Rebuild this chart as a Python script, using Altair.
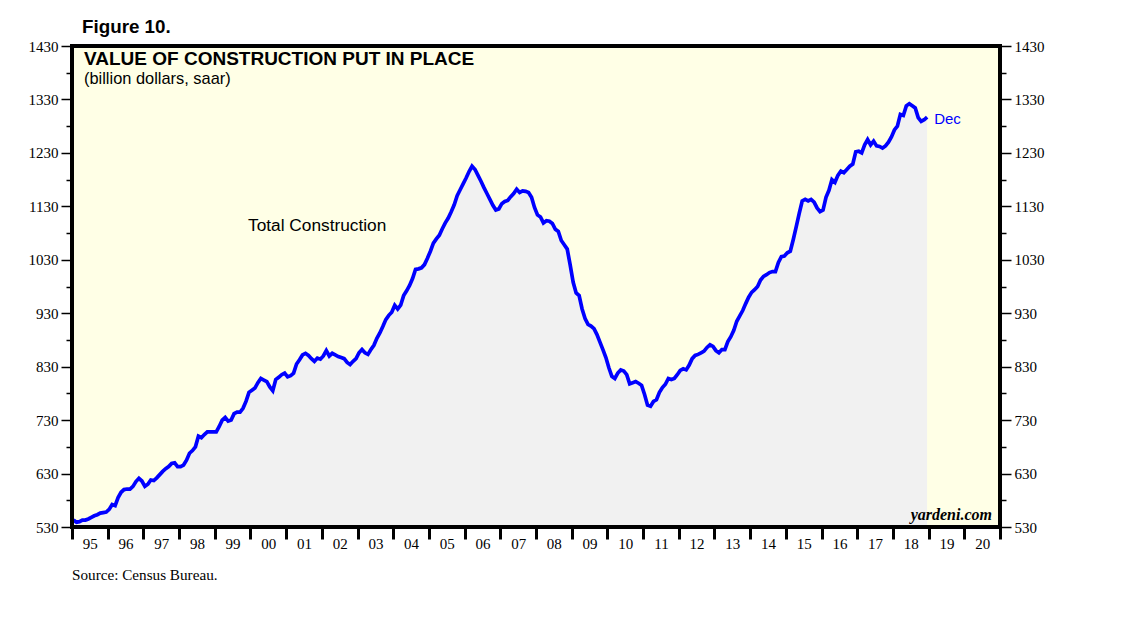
import altair as alt
import pandas as pd

# Monthly value of construction put in place, billion dollars (saar), Jan 1995 - Dec 2018
values_1995_2000 = [
    543, 539, 540, 543, 543, 545, 548, 551, 553, 556, 557, 558,
    563, 572, 570, 585, 595, 600, 601, 601, 606, 615, 621, 616,
    606, 610, 618, 617, 622, 628, 634, 639, 643, 649, 650, 643,
    643, 646, 655, 668, 673, 680, 700, 697, 703, 708, 708, 708,
    708, 718, 730, 735, 728, 730, 742, 745, 745, 752, 765, 782,
    786, 790, 800, 808, 805, 802, 792, 785, 806, 810, 815, 818,
]
values_2001_2006 = [
    811, 813, 818, 835, 843, 852, 855, 851, 845, 840, 846, 844,
    850, 860, 850, 855, 852, 849, 847, 845, 838, 834, 840, 845,
    856, 862, 856, 853, 862, 870, 883, 893, 905, 918, 926, 932,
    945, 938, 945, 963, 972, 982, 995, 1012, 1013, 1015, 1021, 1033,
    1046, 1061, 1069, 1076, 1088, 1099, 1108, 1120, 1133, 1150, 1161, 1172,
    1183, 1195, 1205, 1199, 1188, 1177, 1165, 1154, 1143, 1132, 1123, 1125,
]
values_2007_2012 = [
    1135, 1139, 1141, 1148, 1154, 1162, 1156, 1159, 1158, 1156, 1147, 1128,
    1114, 1110, 1099, 1103, 1102, 1098, 1087, 1083, 1066, 1058, 1050, 1020,
    988, 968, 963, 938, 920, 909, 906, 901, 890, 876, 862, 847,
    828, 812, 808, 818, 824, 822, 815, 798, 800, 802, 799, 795,
    778, 758, 756, 765, 768, 782, 791, 797, 808, 806, 808, 815,
    823, 826, 824, 833, 845, 851, 853, 856, 859, 866, 871, 868,
]
values_2013_2018 = [
    860, 856, 862, 862, 877, 886, 898, 915, 925, 935, 948, 960,
    969, 974, 980, 992, 999, 1002, 1006, 1008, 1008, 1025, 1036, 1037,
    1043, 1046, 1068, 1092, 1117, 1140, 1143, 1140, 1143, 1138, 1127, 1120,
    1123, 1147, 1160, 1180, 1175, 1188, 1196, 1193, 1199, 1205, 1209, 1232,
    1233, 1230, 1245, 1255, 1245, 1252, 1243, 1242, 1239, 1243, 1250, 1260,
    1273, 1280, 1302, 1300, 1318, 1322, 1318, 1314, 1296, 1289, 1292, 1297,
]

first_year = 1995
year_ticks = list(range(1995, 2022))          # year boundaries on the x axis
major_ticks = list(range(530, 1431, 100))     # labelled y ticks
minor_ticks = list(range(580, 1431, 100))     # unlabelled y ticks

all_values = values_1995_2000 + values_2001_2006 + values_2007_2012 + values_2013_2018
rows = []
for k, v in enumerate(all_values):
    year = first_year + k // 12
    month = k % 12 + 1
    rows.append({"date": year + (month - 0.5) / 12, "value": v})
df = pd.DataFrame(rows)

W, H = 928, 481
serif = "Liberation Serif"
sans = "Liberation Sans"

x_scale = alt.Scale(domain=[year_ticks[0], year_ticks[-1]], nice=False, zero=False)
y_scale = alt.Scale(domain=[major_ticks[0], major_ticks[-1]], nice=False, zero=False)

x_axis = alt.Axis(
    orient="bottom",
    values=year_ticks,
    labelExpr="datum.value >= 2021 ? '' : slice(toString(datum.value), 2)",
    tickSize=12, tickWidth=3, tickColor="black", domain=False, grid=False,
    labelOffset=W / 26 / 2, labelPadding=-3, labelFont=serif, labelFontSize=15,
    labelColor="black", labelAngle=0, labelBaseline="top", labelFlush=False,
    labelOverlap=False, title=None,
)


def y_axis(orient, values, size, labels):
    kw = dict(
        orient=orient, values=values, tickSize=size, tickWidth=1.5, tickColor="black",
        domain=False, grid=False, title=None, labels=labels,
    )
    if labels:
        kw.update(format="d", labelFont=serif, labelFontSize=15, labelColor="black",
                  labelPadding=3, labelFlush=False, labelOverlap=False)
    return alt.Axis(**kw)


area = alt.Chart(df).mark_area(color="#F1F1F1", clip=True).encode(
    x=alt.X("date:Q", scale=x_scale, axis=x_axis),
    y=alt.Y("value:Q", scale=y_scale, axis=y_axis("left", major_ticks, 11, True)),
    y2=alt.Y2(datum=major_ticks[0]),
)

line = alt.Chart(df).mark_line(color="#0000FF", strokeWidth=3.7).encode(
    x=alt.X("date:Q", scale=x_scale, axis=x_axis),
    y=alt.Y("value:Q", scale=y_scale, axis=y_axis("left", minor_ticks, 6, False)),
)

frame_df = pd.DataFrame([{
    "date": year_ticks[0], "x1": year_ticks[-1], "value": major_ticks[0], "y1": major_ticks[-1]
}])
frame = alt.Chart(frame_df).mark_rect(fillOpacity=0, stroke="black", strokeWidth=4).encode(
    x=alt.X("date:Q", scale=x_scale, axis=x_axis),
    x2="x1:Q",
    y=alt.Y("value:Q", scale=y_scale, axis=y_axis("right", major_ticks, 11, True)),
    y2="y1:Q",
)

last_df = pd.DataFrame([{"date": df["date"].iloc[-1], "value": all_values[-1], "label": "Dec"}])
dec_label = alt.Chart(last_df).mark_text(
    align="left", baseline="middle", dx=7, dy=2, color="#0000FF", font=sans, fontSize=15
).encode(
    x=alt.X("date:Q", scale=x_scale, axis=x_axis),
    y=alt.Y("value:Q", scale=y_scale, axis=y_axis("right", minor_ticks, 6, False)),
    text="label:N",
)


def note(text, x, y, size, font=sans, weight="normal", style="normal", align="left", color="black"):
    return alt.Chart(pd.DataFrame([{"t": text}])).mark_text(
        align=align, baseline="alphabetic", font=font, fontSize=size, fontWeight=weight,
        fontStyle=style, color=color,
    ).encode(x=alt.value(x), y=alt.value(y), text="t:N")


notes = [
    note("Figure 10.", 10, -13, 18.8, weight="bold"),
    note("VALUE OF CONSTRUCTION PUT IN PLACE", 12, 19, 19, weight="bold"),
    note("(billion dollars, saar)", 12, 38, 16.4),
    note("Total Construction", 176, 185, 17.3),
    note("yardeni.com", 920, 474, 16, font=serif, weight="bold", style="italic", align="right"),
    note("Source: Census Bureau.", 0, 534, 15.2, font=serif),
]

chart = alt.layer(area, line, frame, dec_label, *notes).resolve_axis(
    y="independent"
).properties(
    width=W, height=H,
    autosize=alt.AutoSizeParams(type="none"),
    padding={"left": 64, "top": 38, "right": 130, "bottom": 70},
).configure_view(fill="#FFFFE6", stroke="transparent")

chart.save("out.html", embed_options={"renderer": "svg", "actions": False})
